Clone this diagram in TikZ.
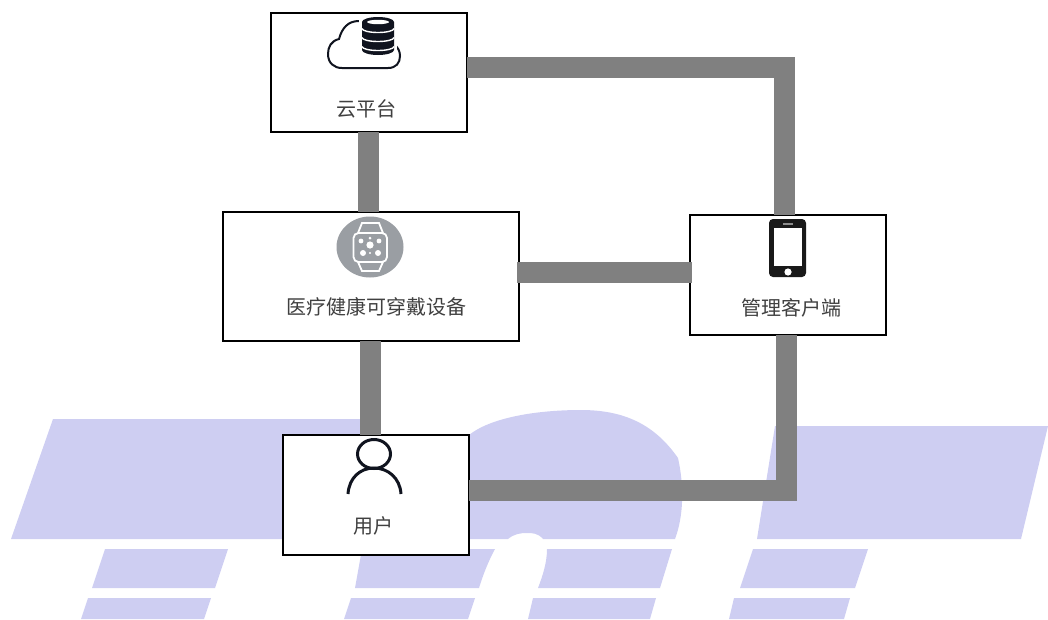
\documentclass[tikz,border=0pt]{standalone}
\usepackage{fontspec}
\newfontfamily\cjk{Noto Sans CJK SC}
\definecolor{lav}{HTML}{CECEF2}
\definecolor{conn}{HTML}{808080}
\definecolor{ink}{HTML}{10141F}
\definecolor{watch}{HTML}{9A9EA3}
\tikzset{
  box/.style={draw=black,fill=white,line width=2pt,inner sep=0pt,outer sep=0pt},
  caption/.style={font=\cjk\fontsize{20}{22}\selectfont,text=black!75,inner sep=0pt},
  wire/.style={draw=conn,line width=21pt,line join=miter},
  bgshape/.style={fill=lav,draw=none},
  icon/.style={draw=ink,line width=2pt,line cap=round},
  watchline/.style={draw=white,line width=1.8pt}
}
\begin{document}
\begin{tikzpicture}[x=1pt,y=-1pt]
\useasboundingbox (0,0) rectangle (1048,619);
% watermark shapes
\path[bgshape] (53,419) -- (372,419) -- (372,440) -- (465,440) -- (469,435)
  .. controls (490,418) and (535,410) .. (581,410)
  .. controls (625,410) and (655,425) .. (678,458)
  .. controls (684,485) and (684,515) .. (675,539)
  -- (543,539) .. controls (538,533) and (532,533) .. (527,533)
  .. controls (520,533) and (514,534) .. (508,539) -- (11,539) -- cycle;
\path[bgshape] (775,426) -- (1048,426) -- (1021,539) -- (757,539) -- cycle;
\path[bgshape] (105,549) -- (228,549) -- (215,588) -- (92,588) -- cycle;
\path[bgshape] (362,549) -- (495,549) .. controls (488,562) and (483,575) .. (479,588) -- (355,588) -- cycle;
\path[bgshape] (547,549) -- (672,549) -- (660,588) -- (538,588) .. controls (543,575) and (547,562) .. (547,549) -- cycle;
\path[bgshape] (753,549) -- (868,549) -- (855,588) -- (740,588) -- cycle;
\path[bgshape] (88,598) -- (211,598) -- (204,619) -- (81,619) -- cycle;
\path[bgshape] (351,598) -- (475,598) -- (468,619) -- (344,619) -- cycle;
\path[bgshape] (533,598) -- (656,598) -- (650,619) -- (528,619) -- cycle;
\path[bgshape] (734,598) -- (850,598) -- (844,619) -- (729,619) -- cycle;
% boxes
\node[box,minimum width=196pt,minimum height=119pt] (cloud) at (369,72.5) {};
\node[box,minimum width=296pt,minimum height=129pt] (device) at (371,276.5) {};
\node[box,minimum width=196pt,minimum height=120pt] (client) at (788,275) {};
\node[box,minimum width=186pt,minimum height=120pt] (user) at (376,495) {};
% connectors
\draw[wire] ([xshift=-0.5pt]cloud.south) -- ([xshift=-2.5pt]device.north);
\draw[wire] ([yshift=5pt]cloud.east) -| ([xshift=-3.5pt]client.north);
\draw[wire] ([yshift=4.5pt,xshift=-2pt]device.east) -- ([yshift=3pt,xshift=2pt]client.west);
\draw[wire] ([xshift=-0.5pt]device.south) -- ([xshift=-5.5pt]user.north);
\draw[wire] ([yshift=5pt]user.east) -| ([xshift=-1.5pt]client.south);
% captions
\node[caption] (t1) at (366,109) {云平台};
\node[caption] (t2) at (376,307) {医疗健康可穿戴设备};
\node[caption] (t3) at (791,308) {管理客户端};
\node[caption] (t4) at (373.5,526) {用户};
% cloud icon
\draw[icon] (359,21) .. controls (348,21) and (342,28) .. (339,39)
  .. controls (331,41) and (328,47) .. (328,54)
  .. controls (328,63) and (334,68) .. (342,68) -- (388,68)
  .. controls (396,68) and (400,63) .. (400,56)
  .. controls (400,51) and (398,48) .. (395,45);
\fill[white] (359,14) rectangle (397,60);
\fill[ink] (362,22) arc[start angle=180,end angle=360,x radius=16,y radius=5]
  -- (394,50) arc[start angle=0,end angle=180,x radius=16,y radius=5] -- cycle;
\fill[white] (378,22) ellipse[x radius=11,y radius=2.2];
\foreach \yy in {28.5,37.5,46.5}
  \draw[white,line width=1.4pt] (362,\yy) arc[start angle=180,end angle=0,x radius=16,y radius=4];
% watch icon
\fill[watch] (370,247) ellipse[x radius=33.5,y radius=30.5];
\draw[watchline,rounded corners=5pt] (353.5,233) rectangle (387,262);
\draw[watchline] (358,233) -- (362,223) -- (379,223) -- (383,233);
\draw[watchline] (358,262) -- (362,271) -- (379,271) -- (383,262);
\fill[white] (370,245) circle[radius=3.6];
\foreach \xx/\yy/\rr in {361/241/2.4,379/241/2.4,370/238/1.5,363/253/3,378/253/3,370/253/1.2}
  \fill[white] (\xx,\yy) circle[radius=\rr];
% phone icon
\fill[black!90,rounded corners=4pt] (769,219) rectangle (806,277);
\fill[white] (773.5,228) rectangle (802,266);
\fill[black!45] (783,223.3) rectangle (793,224.8);
\fill[white] (788,272) circle[radius=3.6];
% person icon
\draw[icon,line width=3pt] (374,454) ellipse[x radius=16.5,y radius=14.5];
\draw[icon,line width=3pt,line cap=butt] (348,494) .. controls (349,478) and (360,468) .. (374,468)
  .. controls (388,468) and (400,478) .. (401,494);
\end{tikzpicture}
\end{document}
